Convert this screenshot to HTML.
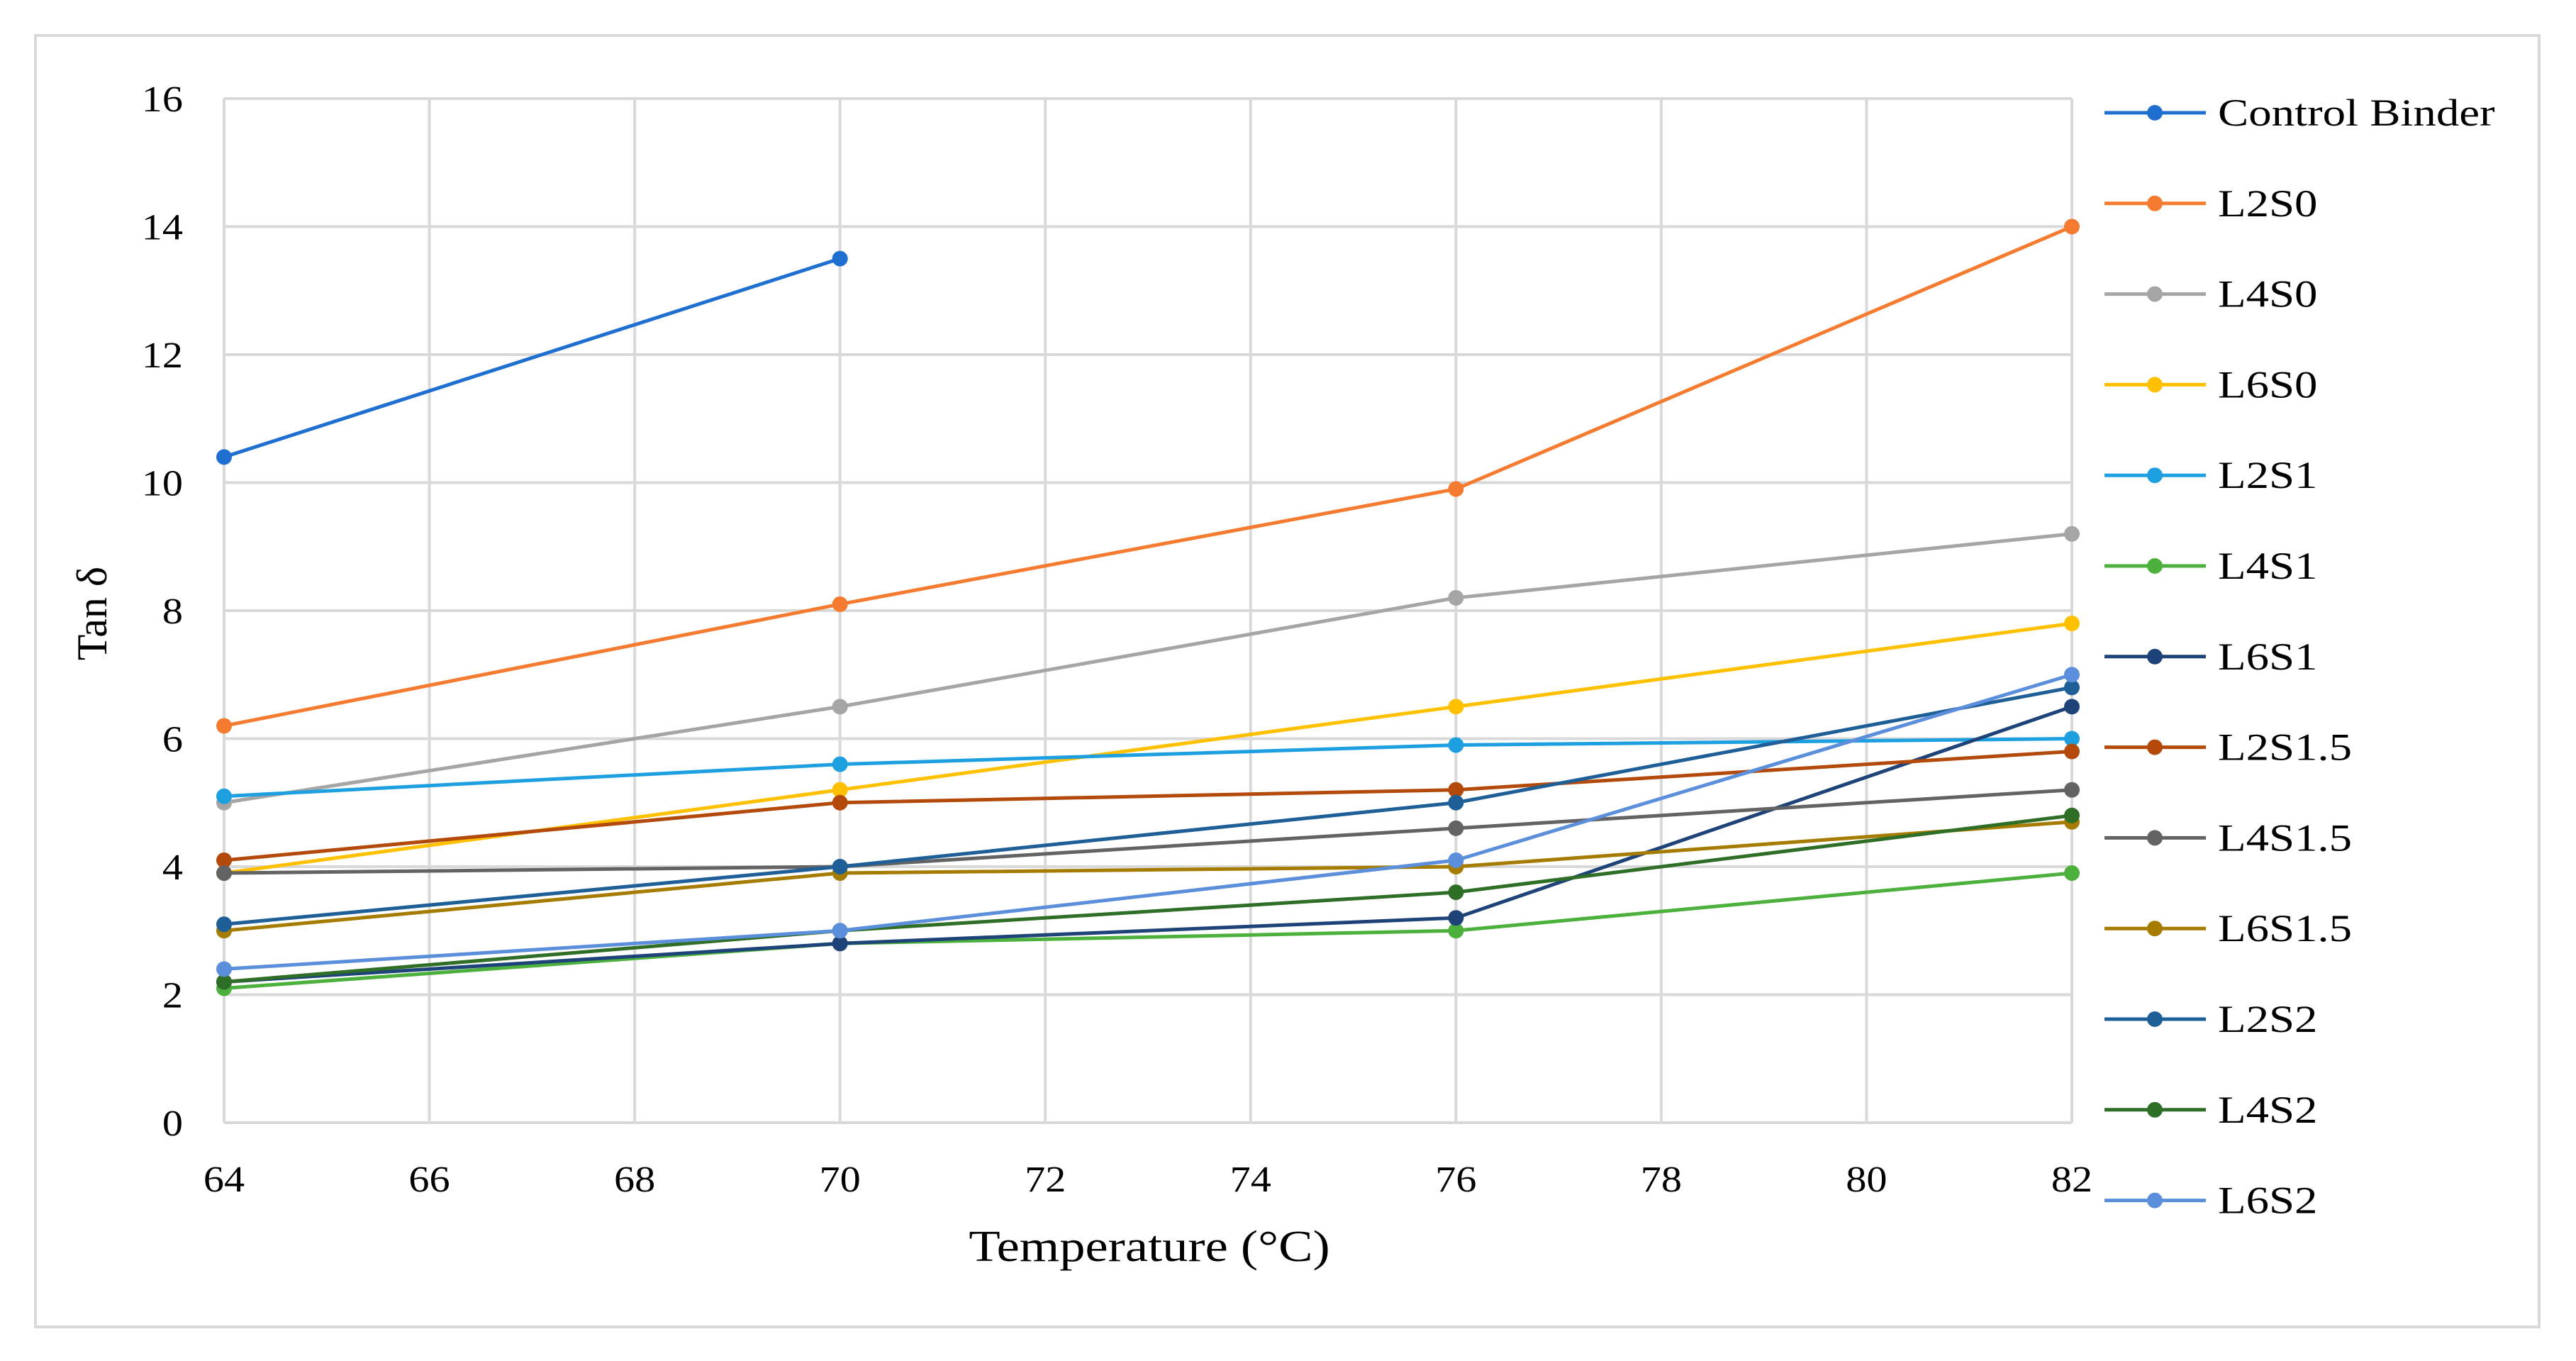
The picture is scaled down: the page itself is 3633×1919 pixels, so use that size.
<!DOCTYPE html>
<html><head><meta charset="utf-8"><style>
body{margin:0;background:#fff;}
svg{display:block;font-family:"Liberation Serif",serif;}
</style></head><body>
<svg id="chart" width="3633" height="1919" viewBox="0 0 3633 1919">
<rect x="50" y="50" width="3531" height="1821" fill="#fff" stroke="#d9d9d9" stroke-width="4"/>
<g id="grid"></g><g id="axes"></g><g id="series"></g><g id="legend"></g>
<text transform="translate(150,865) rotate(-90)" text-anchor="middle" font-size="60" fill="#000">Tan δ</text>
<text id="xtitle" x="1621" y="1778" text-anchor="middle" font-size="62" fill="#000">Temperature (°C)</text>
</svg>
<script>
const xTicks=[64,66,68,70,72,74,76,78,80,82];
const yTicks=[0,2,4,6,8,10,12,14,16];
const temps=[64,70,76,82];
const names=["Control Binder","L2S0","L4S0","L6S0","L2S1","L4S1","L6S1","L2S1.5","L4S1.5","L6S1.5","L2S2","L4S2","L6S2"];
const colors=["#1f6fd0","#f47b30","#a5a5a5","#ffc000","#1ea0e0","#4cb03c","#1d4378","#b34a0c","#636363","#a57c00","#1f5f98","#2f6e26","#5b8fdc"];
const sControl=[10.4,13.5];
const sL2S0=[6.2,8.1,9.9,14.0];
const sL4S0=[5.0,6.5,8.2,9.2];
const sL6S0=[3.9,5.2,6.5,7.8];
const sL2S1=[5.1,5.6,5.9,6.0];
const sL4S1=[2.1,2.8,3.0,3.9];
const sL6S1=[2.2,2.8,3.2,6.5];
const sL2S15=[4.1,5.0,5.2,5.8];
const sL4S15=[3.9,4.0,4.6,5.2];
const sL6S15=[3.0,3.9,4.0,4.7];
const sL2S2=[3.1,4.0,5.0,6.8];
const sL4S2=[2.2,3.0,3.6,4.8];
const sL6S2=[2.4,3.0,4.1,7.0];
const allSeries=[sControl,sL2S0,sL4S0,sL6S0,sL2S1,sL4S1,sL6S1,sL2S15,sL4S15,sL6S15,sL2S2,sL4S2,sL6S2];

const L=316,R=2922,T=139,B=1583;
const xs=v=>L+(v-64)/(82-64)*(R-L);
const ys=v=>B-(v/16)*(B-T);
const NS="http://www.w3.org/2000/svg";
function mk(tag,attrs,parent){const e=document.createElementNS(NS,tag);for(const k in attrs)e.setAttribute(k,attrs[k]);parent.appendChild(e);return e;}
function stretch(t,f){const w=t.getComputedTextLength();t.setAttribute('textLength',w*f);t.setAttribute('lengthAdjust','spacingAndGlyphs');}
const grid=document.getElementById('grid'),axes=document.getElementById('axes'),ser=document.getElementById('series'),leg=document.getElementById('legend');
xTicks.forEach(t=>{
 const l=mk('line',{x1:xs(t),x2:xs(t),y1:T,y2:B,stroke:'#d9d9d9','stroke-width':4},grid);
 
 
 const tx=mk('text',{x:xs(t),y:1680,'text-anchor':'middle','font-size':52,fill:'#000'},axes);
 tx.textContent=t;
 
 
 stretch(tx,1.12);
});
yTicks.forEach(t=>{
 const l=mk('line',{x1:L,x2:R,y1:ys(t),y2:ys(t),stroke:'#d9d9d9','stroke-width':4},grid);
 
 
 const tx=mk('text',{x:258,y:ys(t)+18,'text-anchor':'end','font-size':52,fill:'#000'},axes);
 tx.textContent=t;
 
 
 stretch(tx,1.12);
});
allSeries.forEach((s,i)=>{
 const g=mk('g',{},ser);
 
 
 const pts=s.map((v,j)=>xs(temps[j])+','+ys(v)).join(' ');
 mk('polyline',{points:pts,fill:'none',stroke:colors[i],'stroke-width':5},g);
 s.forEach((v,j)=>{
  const c=mk('circle',{cx:xs(temps[j]),cy:ys(v),r:11,fill:colors[i]},g);
  
  
 });
 const y=159+i*127.8;
 const lg=mk('g',{},leg);
 
 
 mk('line',{x1:2968,x2:3111,y1:y,y2:y,stroke:colors[i],'stroke-width':5},lg);
 mk('circle',{cx:3039,cy:y,r:11,fill:colors[i]},lg);
 const t=mk('text',{x:3128,y:y+18,'font-size':54,fill:'#000'},lg);
 t.textContent=names[i];
 stretch(t,1.2);
});
stretch(document.getElementById('xtitle'),1.17);
</script>
</body></html>
